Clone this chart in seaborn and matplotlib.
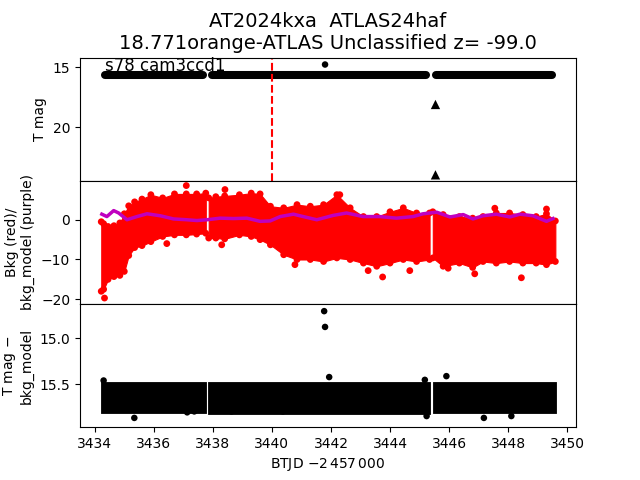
import matplotlib
matplotlib.use("Agg")
import matplotlib.pyplot as plt
import seaborn as sns
import pandas as pd

# ---------------- data ----------------
# observing segments (BTJD - 2457000)
seg_start = [3434.21, 3437.85, 3445.44]
seg_end = [3437.77, 3445.35, 3449.61]

# T mag band (dense photometry envelope), same in top and bottom panels
band_hi = [15.475, 15.47, 15.475]
band_lo = [15.81, 15.815, 15.81]

# top panel extra points
top_dot_t = [3441.80]
top_dot_mag = [14.75]
limit_t = [3445.54, 3445.54]
limit_mag = [18.1, 24.0]
event_t = 3440.0

# background (red) envelope per segment
bkg_t1 = [3434.22, 3434.30, 3434.45, 3434.65, 3434.85, 3435.00, 3435.15, 3435.35,
          3435.60, 3435.90, 3436.30, 3436.70, 3437.10, 3437.45, 3437.76]
bkg_hi1 = [-0.5, -1.0, -1.7, -1.5, -0.8, 1.5, 3.5, 4.5, 5.2, 6.3, 5.5, 6.5, 6.5, 6.5, 6.7]
bkg_lo1 = [-18.0, -17.5, -15.0, -14.3, -14.0, -13.0, -9.0, -7.0, -6.5, -5.5, -4.2, -3.8,
           -3.8, -3.6, -3.4]
bkg_t2 = [3437.86, 3438.10, 3438.40, 3438.90, 3439.30, 3439.60, 3439.95, 3440.40, 3440.85,
          3441.30, 3441.75, 3442.20, 3442.65, 3443.10, 3443.55, 3444.00, 3444.45, 3444.90,
          3445.34]
bkg_hi2 = [5.5, 5.8, 6.0, 6.3, 6.7, 6.5, 3.4, 3.0, 3.8, 3.4, 3.8, 6.3, 3.0, 0.8, 0.8, 2.0,
           3.0, 1.7, 1.7]
bkg_lo2 = [-4.6, -4.6, -4.8, -3.8, -4.2, -5.0, -6.3, -8.8, -10.0, -10.0, -10.5, -9.6, -10.0,
           -10.9, -11.7, -10.9, -10.0, -10.5, -10.0]
bkg_t3 = [3445.45, 3445.80, 3446.35, 3446.80, 3447.15, 3447.60, 3448.05, 3448.50, 3448.95,
          3449.30, 3449.60]
bkg_hi3 = [2.0, 1.3, 0.8, 0.4, 0.8, 1.7, 1.7, 1.3, 0.8, 1.5, -0.3]
bkg_lo3 = [-9.6, -11.7, -10.9, -12.0, -10.5, -10.9, -10.5, -10.9, -10.9, -11.3, -10.5]

# background outliers
bkg_out_t = [3437.10, 3434.33, 3438.41, 3438.30, 3436.44, 3443.75, 3443.26, 3448.45,
             3447.55, 3449.30, 3444.67, 3446.87, 3442.30, 3440.78, 3445.97]
bkg_out_v = [8.6, -19.7, 7.6, -6.3, -6.0, -14.4, -12.8, -14.6, 2.9, 2.7, -12.8, -13.6,
             6.3, -11.3, -12.2]

# background model (purple)
model_t = [3434.24, 3434.41, 3434.64, 3434.81, 3435.09, 3435.43, 3435.77, 3436.22, 3436.67,
           3437.12, 3437.46, 3437.80, 3438.25, 3438.70, 3439.15, 3439.60, 3439.94, 3440.28,
           3440.73, 3441.06, 3441.52, 3442.08, 3442.53, 3443.09, 3443.66, 3444.22, 3444.78,
           3445.12, 3445.58, 3446.03, 3446.48, 3446.81, 3447.15, 3447.60, 3448.06, 3448.40,
           3448.84, 3449.30, 3449.52]
model_v = [1.4, 0.8, 2.3, 1.7, 0.0, 0.8, 1.5, 1.0, 0.2, 0.0, -0.2, 0.0, 0.4, 0.3, 0.4, -0.4,
           -0.3, 0.8, 1.4, 0.8, 0.0, 1.1, 1.7, 0.8, 0.8, 0.4, 0.8, 1.5, 1.9, 0.7, 1.3, 0.2,
           1.0, 1.4, 0.7, 1.4, 1.0, -0.4, 0.3]

# bottom-panel outliers (T mag - bkg_model)
diff_out_t = [3434.30, 3435.34, 3437.13, 3437.37, 3438.63, 3440.37, 3441.94, 3445.18,
              3445.24, 3445.91, 3447.18, 3448.11, 3441.77, 3441.80]
diff_out_v = [15.457, 15.86, 15.80, 15.79, 15.79, 15.79, 15.42, 15.45, 15.84, 15.41, 15.86,
              15.84, 14.71, 14.88]

x_ticks = [3434, 3436, 3438, 3440, 3442, 3444, 3446, 3448, 3450]

# ---------------- figure ----------------
fig, (ax1, ax2, ax3) = plt.subplots(3, 1, sharex=True, figsize=(6.4, 4.8), dpi=100)
fig.subplots_adjust(hspace=0)

for s, e, hi, lo in zip(seg_start, seg_end, band_hi, band_lo):
    mid = (hi + lo) / 2.0
    ax1.plot([s + 0.12, e - 0.12], [mid, mid], color="black", lw=5.8,
             solid_capstyle="round")
    ax3.fill_between([s, e], [hi, hi], [lo, lo], color="black", lw=0.6,
                     edgecolor="black")

sns.scatterplot(x=top_dot_t, y=top_dot_mag, ax=ax1, color="black", s=22,
                edgecolor="none", legend=False)
sns.scatterplot(x=limit_t, y=limit_mag, ax=ax1, color="black", marker="^", s=45,
                edgecolor="none", legend=False)
ax1.axvline(event_t, color="red", ls="--", lw=1.5)
ax1.set_ylim(24.5, 14.17)
ax1.set_yticks([15, 20])
ax1.set_ylabel("T mag")
ax1.text(0.05, 0.895, "s78 cam3ccd1", transform=ax1.transAxes, fontsize=12)
ax1.set_title("AT2024kxa  ATLAS24haf\n18.771orange-ATLAS Unclassified z= -99.0",
              fontsize=14)

# middle panel
for t, hi, lo in [(bkg_t1, bkg_hi1, bkg_lo1), (bkg_t2, bkg_hi2, bkg_lo2),
                  (bkg_t3, bkg_hi3, bkg_lo3)]:
    ax2.fill_between(t, hi, lo, color="red", lw=0.8, edgecolor="red")
    edge = pd.DataFrame({"t": t + t, "v": hi + lo})
    sns.scatterplot(data=edge, x="t", y="v", ax=ax2, color="red", s=24,
                    edgecolor="none", legend=False)
sns.scatterplot(x=bkg_out_t, y=bkg_out_v, ax=ax2, color="red", s=24, edgecolor="none",
                legend=False)
sns.lineplot(x=model_t, y=model_v, ax=ax2, color="#bf00bf", lw=2.5, sort=False,
             estimator=None)
ax2.set_ylim(-21.2, 9.8)
ax2.set_yticks([0, -10, -20])
ax2.set_ylabel("Bkg (red)/\nbkg_model (purple)")

# bottom panel
sns.scatterplot(x=diff_out_t, y=diff_out_v, ax=ax3, color="black", s=22,
                edgecolor="none", legend=False)
ax3.set_ylim(15.96, 14.633)
ax3.set_yticks([15.0, 15.5])
ax3.set_ylabel("T mag $-$\nbkg_model")
ax3.set_xlim(3433.5, 3450.3)
ax3.set_xticks(x_ticks)
ax3.set_xlabel(r"BTJD $-2\,457\,000$")

fig.savefig("out.png", dpi=100)
